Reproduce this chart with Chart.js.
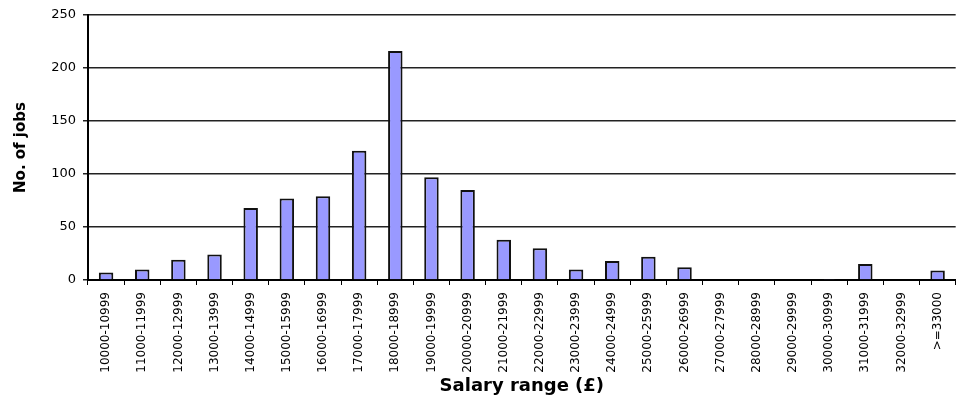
<!DOCTYPE html>
<html>
<head>
<meta charset="utf-8">
<script src="https://cdn.jsdelivr.net/npm/chart.js@4"></script>
<style>
  html, body { margin: 0; padding: 0; background: #fff; }
  #wrap { width: 959px; height: 402px; position: relative; }
</style>
</head>
<body>
<div id="wrap"><canvas id="salaryChart"></canvas></div>
<script>
// salary bands (x categories)
const salaryRanges = [
    '10000-10999', '11000-11999', '12000-12999', '13000-13999', '14000-14999',
    '15000-15999', '16000-16999', '17000-17999', '18000-18999', '19000-19999',
    '20000-20999', '21000-21999', '22000-22999', '23000-23999', '24000-24999',
    '25000-25999', '26000-26999', '27000-27999', '28000-28999', '29000-29999',
    '30000-30999', '31000-31999', '32000-32999', '>=33000'
];
// number of jobs per band
const jobCounts = [
    7, 10, 19, 24, 68,
    77, 79, 122, 216, 97,
    85, 38, 30, 10, 18,
    22, 12, 0, 0, 0,
    1, 15, 0, 9
];
const yTicks = [0, 50, 100, 150, 200, 250];

document.addEventListener('DOMContentLoaded', () => {
    const ctx = document.getElementById('salaryChart').getContext('2d');
    new Chart(ctx, {
        type: 'bar',
        data: {
            labels: salaryRanges,
            datasets: [{
                label: 'No. of jobs',
                data: jobCounts,
                backgroundColor: '#9999FF',
                borderColor: '#111',
                borderWidth: 2,
                barPercentage: 0.4,
                categoryPercentage: 1.0
            }]
        },
        options: {
            responsive: true,
            maintainAspectRatio: false,
            animation: false,
            layout: { padding: { top: 15, right: 0, bottom: 0, left: 0 } },
            plugins: {
                legend: { display: false },
                tooltip: { enabled: false }
            },
            scales: {
                x: {
                    afterFit: (scale) => { scale.height = 122; },
                    grid: { display: true, drawOnChartArea: false, drawTicks: true, tickLength: 5, color: '#000', offset: true },
                    border: { display: true, color: '#000', width: 2 },
                    ticks: {
                        autoSkip: false, maxRotation: 90, minRotation: 90, padding: 7,
                        color: '#000', font: { family: 'DejaVu Sans', size: 12 }
                    },
                    title: {
                        display: true, text: 'Salary range (£)', color: '#000',
                        font: { family: 'DejaVu Sans', size: 18, weight: 'bold' },
                        padding: { top: 0, bottom: 5 }
                    }
                },
                y: {
                    min: 0, max: 250,
                    afterFit: (scale) => { scale.width = 88; },
                    afterBuildTicks: (scale) => { scale.ticks = yTicks.map(v => ({ value: v })); },
                    grid: { color: '#222', lineWidth: 1.5, drawTicks: true, tickLength: 5 },
                    border: { display: true, color: '#000', width: 2 },
                    ticks: { padding: 7, color: '#000', font: { family: 'DejaVu Sans', size: 13 } },
                    title: {
                        display: true, text: 'No. of jobs', color: '#000',
                        font: { family: 'DejaVu Sans', size: 15, weight: 'bold' },
                        padding: { top: 12, bottom: 0 }
                    }
                }
            }
        }
    });
});
</script>
</body>
</html>
